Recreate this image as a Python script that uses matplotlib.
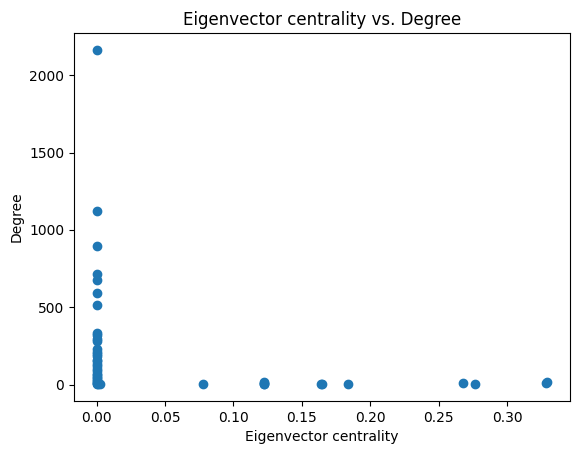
import matplotlib
matplotlib.use("Agg")
import matplotlib.pyplot as plt

# eigenvector centrality values (x) and degrees (y)
centrality = [0.0, 0.0, 0.0, 0.0, 0.0, 0.0, 0.0,
              0.0, 0.0, 0.0, 0.0, 0.0, 0.0, 0.0, 0.0, 0.0, 0.0, 0.0,
              0.0, 0.0, 0.0, 0.0, 0.0, 0.0, 0.0, 0.0, 0.0, 0.0, 0.0,
              0.0005, 0.001, 0.0025,
              0.0776, 0.122, 0.122, 0.122, 0.1225, 0.164, 0.1645, 0.1834,
              0.2678, 0.2761, 0.3285, 0.3293]
degree = [2165, 1125, 893, 718, 675, 589, 517,
          332, 322, 292, 280, 232, 212, 200, 182, 160, 150, 130, 118,
          100, 85, 70, 60, 50, 40, 30, 20, 12, 5,
          8, 3, 2,
          2, 6, 12, 16, 3, 2, 4, 5,
          12, 4, 12, 18]

fig = plt.figure(figsize=(5.8, 4.55), dpi=100)
fig.subplots_adjust(left=74/580, right=570/580, top=1-33/455, bottom=1-401/455)
ax = fig.add_subplot(111)
ax.scatter(centrality, degree)
ax.set_title("Eigenvector centrality vs. Degree")
ax.set_xlabel("Eigenvector centrality")
ax.set_ylabel("Degree")

fig.savefig("out.png")
